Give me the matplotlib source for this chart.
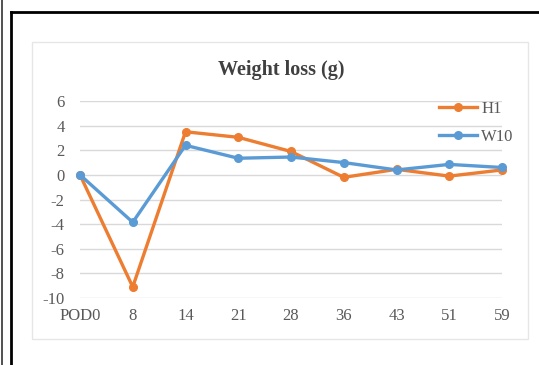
import matplotlib.pyplot as plt
from matplotlib.lines import Line2D
from matplotlib.patches import Rectangle

# data
days = ["POD0", "8", "14", "21", "28", "36", "43", "51", "59"]
h1 = [0, -9.1, 3.5, 3.05, 1.9, -0.2, 0.45, -0.1, 0.4]
w10 = [0, -3.85, 2.4, 1.35, 1.45, 1.0, 0.4, 0.85, 0.6]
yticks = [-10, -8, -6, -4, -2, 0, 2, 4, 6]

W, H = 539, 365
fig = plt.figure(figsize=(W / 100, H / 100), dpi=100)
fig.patch.set_facecolor("white")

serif = ["Liberation Serif", "DejaVu Serif"]
grey = "#595959"

# page frame lines around the chart
fig.add_artist(Line2D([1.5 / W, 1.5 / W], [0, 1], color="#333333", lw=1.2))
fig.add_artist(Line2D([11 / W, 11 / W], [0, 1 - 12 / H], color="black", lw=2))
fig.add_artist(Line2D([11 / W, 1], [1 - 12 / H, 1 - 12 / H], color="black", lw=2))

# light chart area border
fig.add_artist(Rectangle((32 / W, 1 - 339 / H), (528 - 32) / W, (339 - 42) / H,
                         fill=False, edgecolor="#e6e6e6", lw=1))

ax = fig.add_axes([80 / W, 1 - 298 / H, (502 - 80) / W, (298 - 101) / H])
x = list(range(len(days)))
ax.plot(x, h1, color="#ED7D31", lw=2.4, marker="o", ms=5.5, label="H1", clip_on=False)
ax.plot(x, w10, color="#5B9BD5", lw=2.4, marker="o", ms=5.5, label="W10", clip_on=False)

ax.set_xlim(0, len(days) - 1)
ax.set_ylim(-10, 6)
ax.set_yticks(yticks)
ax.set_yticklabels([str(v) for v in yticks], family=serif, color=grey, fontsize=12)
ax.set_xticks(x)
ax.set_xticklabels(days, family=serif, color=grey, fontsize=12)
ax.tick_params(axis="y", length=0, pad=11)
ax.tick_params(axis="x", length=0, pad=7)
ax.grid(axis="y", color="#d9d9d9", lw=1)
ax.set_axisbelow(True)
for s in ax.spines.values():
    s.set_visible(False)
ax.set_facecolor("none")

fig.text(281 / W, 1 - 70 / H, "Weight loss (g)", family=serif, fontweight="bold",
         fontsize=14.5, color="#404040", ha="center", va="center")

leg = fig.legend(loc="upper left", bbox_to_anchor=(432 / W, 1 - 94 / H), frameon=False,
                 prop={"family": serif, "size": 12}, handlelength=2.3,
                 handletextpad=0.25, labelspacing=0.75, borderaxespad=0)
for t in leg.get_texts():
    t.set_color(grey)

plt.savefig("out.png", dpi=100)
